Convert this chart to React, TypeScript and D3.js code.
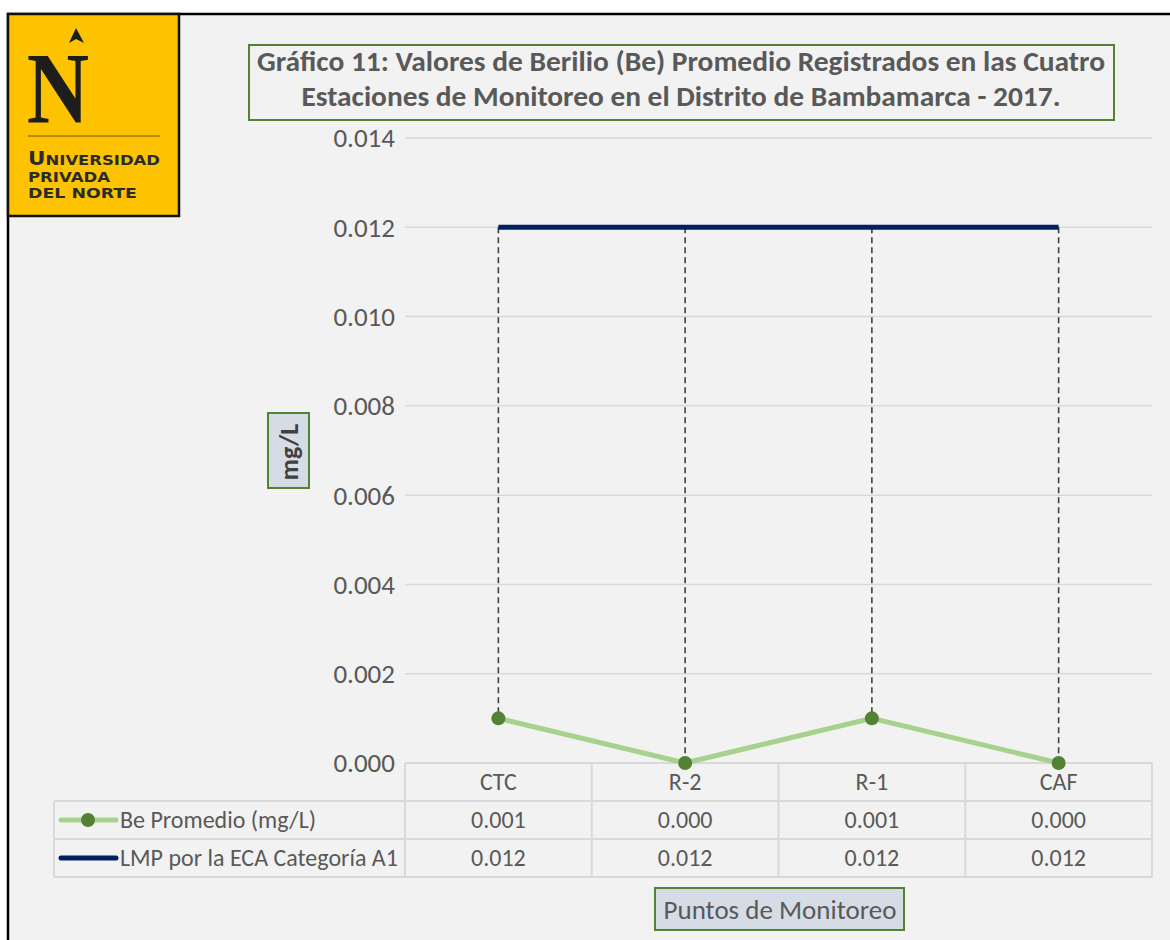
import React, { useEffect, useRef } from 'react';
import * as d3 from 'd3';

const categories = ['CTC', 'R-2', 'R-1', 'CAF'];
const beValues = [0.001, 0.0, 0.001, 0.0];
const lmpValues = [0.012, 0.012, 0.012, 0.012];
const yTicks = [0, 0.002, 0.004, 0.006, 0.008, 0.01, 0.012, 0.014];
const titleLines = [
  'Gráfico 11: Valores de Berilio (Be) Promedio Registrados en las Cuatro',
  'Estaciones de Monitoreo en el Distrito de Bambamarca - 2017.',
];
const seriesNames = ['Be Promedio (mg/L)', 'LMP por la ECA Categoría A1'];

const FONT = "Carlito, Calibri, Lato, 'Open Sans', sans-serif";
const TEXT = '#595959';
const GRID = '#d9d9d9';

const App = () => {
  const ref = useRef<SVGSVGElement>(null);

  useEffect(() => {
    if (!ref.current) return;
    const svg = d3.select(ref.current);
    svg.selectAll('*').remove();

    const width = 1170;
    const height = 940;
    const plot = { left: 405, right: 1152, top: 138, bottom: 763 };

    svg.append('rect').attr('width', width).attr('height', height).attr('fill', '#fff');
    svg.append('rect')
      .attr('x', 8).attr('y', 14).attr('width', width - 8).attr('height', height - 14)
      .attr('fill', '#f2f2f2');
    // outer frame (top + left)
    svg.append('path')
      .attr('d', `M8,${height} L8,14 L${width},14`)
      .attr('fill', 'none').attr('stroke', '#000').attr('stroke-width', 2.5);

    const x = d3.scaleBand().domain(categories).range([plot.left, plot.right]);
    const y = d3.scaleLinear().domain([0, 0.014]).range([plot.bottom, plot.top]);
    const cx = (c: string) => (x(c) as number) + x.bandwidth() / 2;

    // gridlines + y labels
    svg.append('g').selectAll('line').data(yTicks).enter().append('line')
      .attr('x1', plot.left).attr('x2', plot.right)
      .attr('y1', d => y(d)).attr('y2', d => y(d))
      .attr('stroke', GRID).attr('stroke-width', 1.5);
    svg.append('g').selectAll('text').data(yTicks).enter().append('text')
      .attr('x', 395).attr('y', d => y(d)).attr('dy', '0.35em')
      .attr('text-anchor', 'end').attr('fill', TEXT)
      .style('font-family', FONT).style('font-size', '27px')
      .text(d => d3.format('.3f')(d));

    // data table
    const rowH = 38;
    const rows = [plot.bottom, plot.bottom + rowH, plot.bottom + 2 * rowH, plot.bottom + 3 * rowH];
    const tableLeft = 54;
    const tg = svg.append('g').attr('stroke', GRID).attr('stroke-width', 2).attr('fill', 'none');
    tg.append('line').attr('x1', plot.left).attr('x2', plot.right).attr('y1', rows[0]).attr('y2', rows[0]);
    [rows[1], rows[2], rows[3]].forEach(r => {
      tg.append('line').attr('x1', tableLeft).attr('x2', plot.right).attr('y1', r).attr('y2', r);
    });
    tg.append('line').attr('x1', tableLeft).attr('x2', tableLeft).attr('y1', rows[1]).attr('y2', rows[3]);
    categories.map(c => x(c) as number).concat([plot.right]).forEach(xv => {
      tg.append('line').attr('x1', xv).attr('x2', xv).attr('y1', rows[0]).attr('y2', rows[3]);
    });

    svg.append('g').selectAll('text').data(categories).enter().append('text')
      .attr('x', d => cx(d)).attr('y', (rows[0] + rows[1]) / 2).attr('dy', '0.35em')
      .attr('text-anchor', 'middle').attr('fill', TEXT)
      .style('font-family', FONT).style('font-size', '24px').text(d => d);

    [beValues, lmpValues].forEach((vals, i) => {
      const rowY = (rows[i + 1] + rows[i + 2]) / 2;
      svg.append('g').selectAll('text').data(vals).enter().append('text')
        .attr('x', (d, j) => cx(categories[j])).attr('y', rowY).attr('dy', '0.35em')
        .attr('text-anchor', 'middle').attr('fill', TEXT)
        .style('font-family', FONT).style('font-size', '24px')
        .text(d => d3.format('.3f')(d));
      svg.append('text')
        .attr('x', 120).attr('y', rowY).attr('dy', '0.35em').attr('fill', TEXT)
        .style('font-family', FONT).style('font-size', '24px').text(seriesNames[i]);
    });
    // legend keys
    const k1 = (rows[1] + rows[2]) / 2;
    svg.append('line').attr('x1', 61).attr('x2', 116).attr('y1', k1).attr('y2', k1)
      .attr('stroke', '#a9d18e').attr('stroke-width', 5).attr('stroke-linecap', 'round');
    svg.append('circle').attr('cx', 88).attr('cy', k1).attr('r', 7).attr('fill', '#548235');
    const k2 = (rows[2] + rows[3]) / 2;
    svg.append('line').attr('x1', 61).attr('x2', 116).attr('y1', k2).attr('y2', k2)
      .attr('stroke', '#002060').attr('stroke-width', 5).attr('stroke-linecap', 'round');

    // drop lines
    svg.append('g').selectAll('line').data(categories).enter().append('line')
      .attr('x1', d => cx(d)).attr('x2', d => cx(d))
      .attr('y1', (d, i) => y(lmpValues[i])).attr('y2', (d, i) => y(beValues[i]))
      .attr('stroke', '#404040').attr('stroke-width', 1.6).attr('stroke-dasharray', '6,4');

    const line = d3.line<number>().x((d, i) => cx(categories[i])).y(d => y(d));
    svg.append('path').datum(lmpValues).attr('d', line)
      .attr('fill', 'none').attr('stroke', '#002060').attr('stroke-width', 5);
    svg.append('path').datum(beValues).attr('d', line)
      .attr('fill', 'none').attr('stroke', '#a9d18e').attr('stroke-width', 5);
    svg.append('g').selectAll('circle').data(beValues).enter().append('circle')
      .attr('cx', (d, i) => cx(categories[i])).attr('cy', d => y(d)).attr('r', 7)
      .attr('fill', '#548235');

    // title box
    svg.append('rect').attr('x', 249).attr('y', 45).attr('width', 865).attr('height', 75)
      .attr('fill', '#f2f2f2').attr('stroke', '#548235').attr('stroke-width', 2);
    const titleWidths = [848, 759];
    titleLines.forEach((t, i) => {
      svg.append('text')
        .attr('x', 681).attr('y', 71 + i * 35)
        .attr('text-anchor', 'middle').attr('fill', TEXT)
        .attr('textLength', titleWidths[i]).attr('lengthAdjust', 'spacingAndGlyphs')
        .style('font-family', FONT).style('font-size', '28px').style('font-weight', 'bold')
        .text(t);
    });

    // y axis title
    svg.append('rect').attr('x', 268).attr('y', 413).attr('width', 41).attr('height', 75)
      .attr('fill', '#d6dce5').attr('stroke', '#548235').attr('stroke-width', 2);
    svg.append('text')
      .attr('transform', 'translate(289,452) rotate(-90)').attr('dy', '0.35em')
      .attr('text-anchor', 'middle').attr('fill', '#404040')
      .style('font-family', FONT).style('font-size', '26px').style('font-weight', 'bold')
      .text('mg/L');

    // x axis title
    svg.append('rect').attr('x', 655).attr('y', 888).attr('width', 249).attr('height', 42)
      .attr('fill', '#d6dce5').attr('stroke', '#548235').attr('stroke-width', 2);
    svg.append('text')
      .attr('x', 780).attr('y', 910).attr('dy', '0.35em')
      .attr('text-anchor', 'middle').attr('fill', TEXT)
      .style('font-family', FONT).style('font-size', '27px')
      .text('Puntos de Monitoreo');

    // logo
    const logo = svg.append('g');
    logo.append('rect').attr('x', 8).attr('y', 14).attr('width', 171).attr('height', 202)
      .attr('fill', '#fdc300').attr('stroke', '#111').attr('stroke-width', 2.5);
    logo.append('text').attr('transform', 'translate(58,123) scale(0.9,1.05)')
      .attr('text-anchor', 'middle')
      .attr('fill', '#1d1d1b').style('font-family', "'Liberation Serif', serif")
      .style('font-size', '96px').style('font-weight', 'bold').text('N');
    logo.append('path').attr('d', 'M76,28 L69,43 L76,39 L84,43 Z').attr('fill', '#1d1d1b');
    logo.append('line').attr('x1', 28).attr('x2', 160).attr('y1', 136).attr('y2', 136)
      .attr('stroke', '#6b5a1e').attr('stroke-width', 1.2);
    const ltext = [['U', 'NIVERSIDAD', 132], ['', 'PRIVADA', 82], ['', 'DEL NORTE', 109]];
    ltext.forEach((p, i) => {
      const t = logo.append('text').attr('x', 28).attr('y', 165 + i * 16.5)
        .attr('textLength', p[2] as number).attr('lengthAdjust', 'spacingAndGlyphs')
        .attr('fill', '#2b2b2b').style('font-weight', 'bold')
        .style('font-family', "'DejaVu Sans', sans-serif");
      if (p[0]) t.append('tspan').style('font-size', '19px').text(p[0] as string);
      t.append('tspan').style('font-size', '14.5px').text(p[1] as string);
    });
  }, []);

  return (
    <svg ref={ref} width={1170} height={940}
      style={{ position: 'absolute', left: 0, top: 0, display: 'block' }} />
  );
};

export default App;
